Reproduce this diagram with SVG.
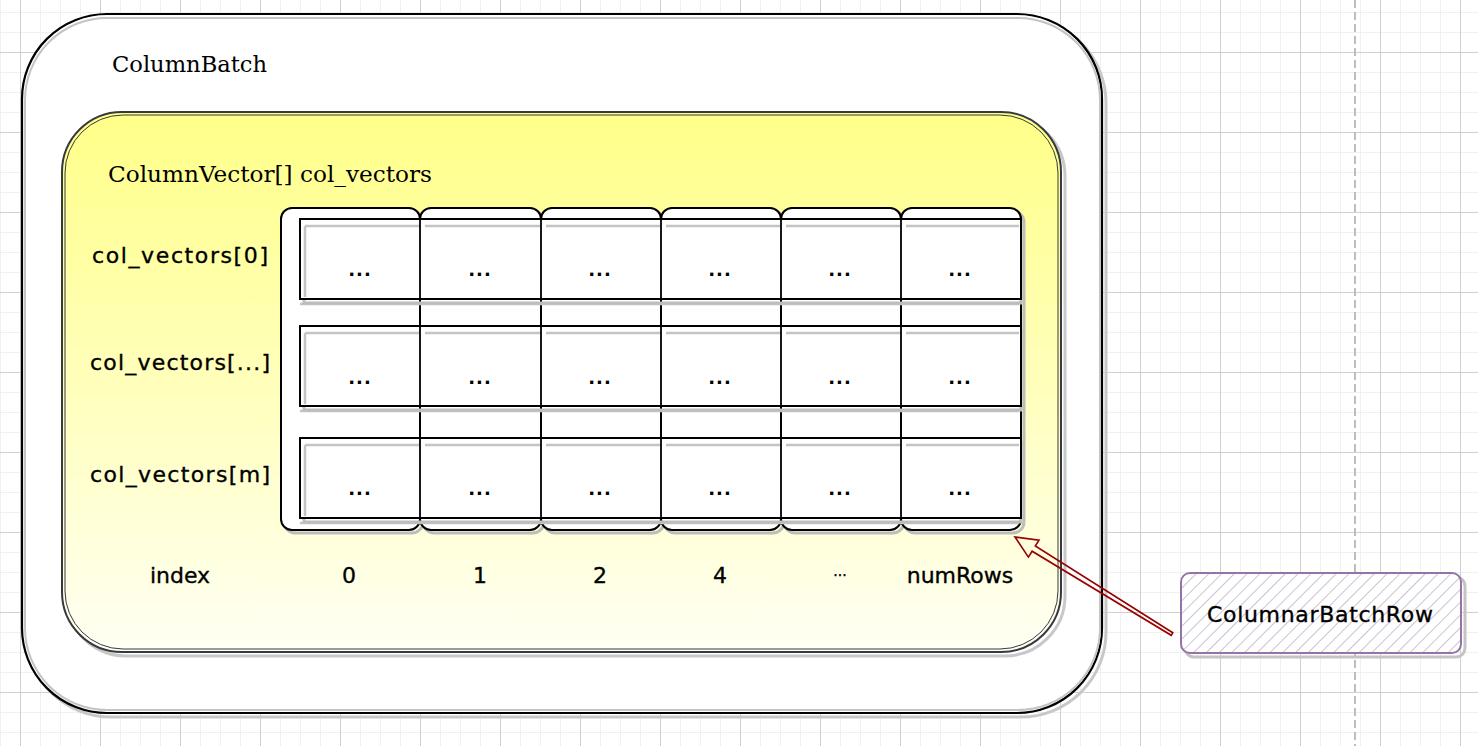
<svg xmlns="http://www.w3.org/2000/svg" width="1478" height="746" viewBox="0 0 1478 746">
<defs>
<pattern id="grid" width="80" height="80" patternUnits="userSpaceOnUse" x="20" y="52">
<rect width="80" height="80" fill="#fff"/>
<path d="M20.5 0V80M40.5 0V80M60.5 0V80M0 20.5H80M0 40.5H80M0 60.5H80" stroke="#f0f0f0" stroke-width="1"/>
<path d="M0.5 0V80M0 0.5H80" stroke="#d0d0d0" stroke-width="1"/>
</pattern>
<linearGradient id="yel" x1="0" y1="0" x2="0" y2="1">
<stop offset="0" stop-color="#ffff88"/>
<stop offset="0.55" stop-color="#ffffc0"/>
<stop offset="1" stop-color="#fffff4"/>
</linearGradient>
<pattern id="hatch" width="9" height="9" patternUnits="userSpaceOnUse" patternTransform="rotate(45)">
<rect width="9" height="9" fill="#fff"/>
<line x1="0" y1="0" x2="0" y2="9" stroke="#a89bb0" stroke-width="1.2"/>
</pattern>
<style>
.serif{font-family:"DejaVu Serif","Liberation Serif",serif;font-size:22px;fill:#000}
.hand{font-family:"DejaVu Sans","Liberation Sans",sans-serif;font-size:22px;fill:#000;stroke:#000;stroke-width:0.35}
.dots{font-family:"DejaVu Sans","Liberation Sans",sans-serif;font-size:18px;font-weight:bold;fill:#000;text-anchor:middle;letter-spacing:1px}
.shadow{fill:none;stroke:#bdbdbd;stroke-width:3}
.col{fill:#fff;stroke:#000;stroke-width:2}
.row{fill:#fff;stroke:#000;stroke-width:2}
.cell{fill:none;stroke:#000;stroke-width:1.8}
.cellsh{fill:none;stroke:#c4c4c4;stroke-width:2.5}
.mid{text-anchor:middle}
</style>
</defs>
<rect width="1478" height="746" fill="url(#grid)"/>
<line x1="1355" y1="0" x2="1355" y2="746" stroke="#bdbdbd" stroke-width="2" stroke-dasharray="8 4"/>

<g id="columnBatch">
<rect x="26" y="18" width="1080" height="699" rx="85" fill="none" stroke="#c8c8c8" stroke-width="3"/>
<rect x="22" y="14" width="1080" height="699" rx="85" fill="#fff" stroke="#000" stroke-width="2.2"/>
<rect x="25" y="18" width="1075" height="692" rx="82" fill="none" stroke="#c4c4c4" stroke-width="2"/>
<text class="serif" x="112" y="72" textLength="155" lengthAdjust="spacingAndGlyphs">ColumnBatch</text>
</g>

<g id="columnVectors">
<rect x="66" y="116" width="999" height="540" rx="60" fill="none" stroke="#c8c8c8" stroke-width="3"/>
<rect x="62" y="112" width="999" height="540" rx="60" fill="url(#yel)" stroke="#36393d" stroke-width="2"/>
<rect x="65" y="115" width="993" height="534" rx="58" fill="none" stroke="#36393d" stroke-width="1"/>
<text class="serif" x="108" y="182" textLength="324" lengthAdjust="spacingAndGlyphs">ColumnVector[] col_vectors</text>
</g>

<g id="columns">
<rect class="shadow" x="284" y="211" width="139" height="322" rx="11"/>
<rect class="shadow" x="423" y="211" width="121" height="322" rx="11"/>
<rect class="shadow" x="544" y="211" width="120" height="322" rx="11"/>
<rect class="shadow" x="664" y="211" width="120" height="322" rx="11"/>
<rect class="shadow" x="784" y="211" width="120" height="322" rx="11"/>
<rect class="shadow" x="904" y="211" width="120" height="322" rx="11"/>
<rect class="col" x="281" y="208" width="139" height="322" rx="11"/>
<rect class="col" x="420" y="208" width="121" height="322" rx="11"/>
<rect class="col" x="541" y="208" width="120" height="322" rx="11"/>
<rect class="col" x="661" y="208" width="120" height="322" rx="11"/>
<rect class="col" x="781" y="208" width="120" height="322" rx="11"/>
<rect class="col" x="901" y="208" width="120" height="322" rx="11"/>
<path d="M300 304H1019M300 411H1019M300 523H1019" stroke="#c4c4c4" stroke-width="2.5" fill="none"/>
</g>

<g id="row0">
<rect class="shadow" x="304" y="223" width="717" height="80"/>
<rect class="row" x="300" y="219" width="721" height="80"/>
<path class="cellsh" d="M305 226H419M425 226H540M546 226H660M666 226H780M786 226H900M906 226H1019M305 226V297"/>
<path class="cell" d="M420 219V299M541 219V299M661 219V299M781 219V299M901 219V299"/>
<text class="dots" x="360" y="276">...</text><text class="dots" x="480" y="276">...</text><text class="dots" x="600" y="276">...</text><text class="dots" x="720" y="276">...</text><text class="dots" x="840" y="276">...</text><text class="dots" x="960" y="276">...</text>
</g>

<g id="row1">
<rect class="shadow" x="304" y="330" width="717" height="80"/>
<rect class="row" x="300" y="326" width="721" height="80"/>
<path class="cellsh" d="M305 333H419M425 333H540M546 333H660M666 333H780M786 333H900M906 333H1019M305 333V404"/>
<path class="cell" d="M420 326V406M541 326V406M661 326V406M781 326V406M901 326V406"/>
<text class="dots" x="360" y="384">...</text><text class="dots" x="480" y="384">...</text><text class="dots" x="600" y="384">...</text><text class="dots" x="720" y="384">...</text><text class="dots" x="840" y="384">...</text><text class="dots" x="960" y="384">...</text>
</g>

<g id="row2">
<rect class="shadow" x="304" y="442" width="717" height="80"/>
<rect class="row" x="300" y="438" width="721" height="80"/>
<path class="cellsh" d="M305 445H419M425 445H540M546 445H660M666 445H780M786 445H900M906 445H1019M305 445V516"/>
<path class="cell" d="M420 438V518M541 438V518M661 438V518M781 438V518M901 438V518"/>
<text class="dots" x="360" y="495">...</text><text class="dots" x="480" y="495">...</text><text class="dots" x="600" y="495">...</text><text class="dots" x="720" y="495">...</text><text class="dots" x="840" y="495">...</text><text class="dots" x="960" y="495">...</text>
</g>

<g id="rowLabels">
<text class="hand" x="92" y="263" textLength="176" lengthAdjust="spacing">col_vectors[0]</text>
<text class="hand" x="90" y="370" textLength="180" lengthAdjust="spacing">col_vectors[...]</text>
<text class="hand" x="90" y="482" textLength="180" lengthAdjust="spacing">col_vectors[m]</text>
</g>

<g id="indexLabels">
<text class="hand mid" x="180" y="583">index</text>
<text class="hand mid" x="349" y="583">0</text>
<text class="hand mid" x="480" y="583">1</text>
<text class="hand mid" x="600" y="583">2</text>
<text class="hand mid" x="720" y="583">4</text>
<text class="hand mid" x="840" y="576" style="font-size:14px">...</text>
<text class="hand mid" x="960" y="583">numRows</text>
</g>

<g id="columnarBatchRow">
<rect x="1185" y="577" width="280" height="80" rx="9" fill="none" stroke="#c4c4c4" stroke-width="3"/>
<rect x="1181" y="573" width="280" height="80" rx="9" fill="url(#hatch)" stroke="#9673a6" stroke-width="2"/>
<text class="hand mid" x="1320" y="622" textLength="226" lengthAdjust="spacing">ColumnarBatchRow</text>
</g>

<g id="connectors">
<polygon points="1172.8,632.7 1035.3,546 1039,540.1 1015,537 1028.4,557.1 1032.1,551.2 1171.2,635.3" fill="none" stroke="#990000" stroke-width="1.6" stroke-linejoin="miter"/>
</g>
</svg>
